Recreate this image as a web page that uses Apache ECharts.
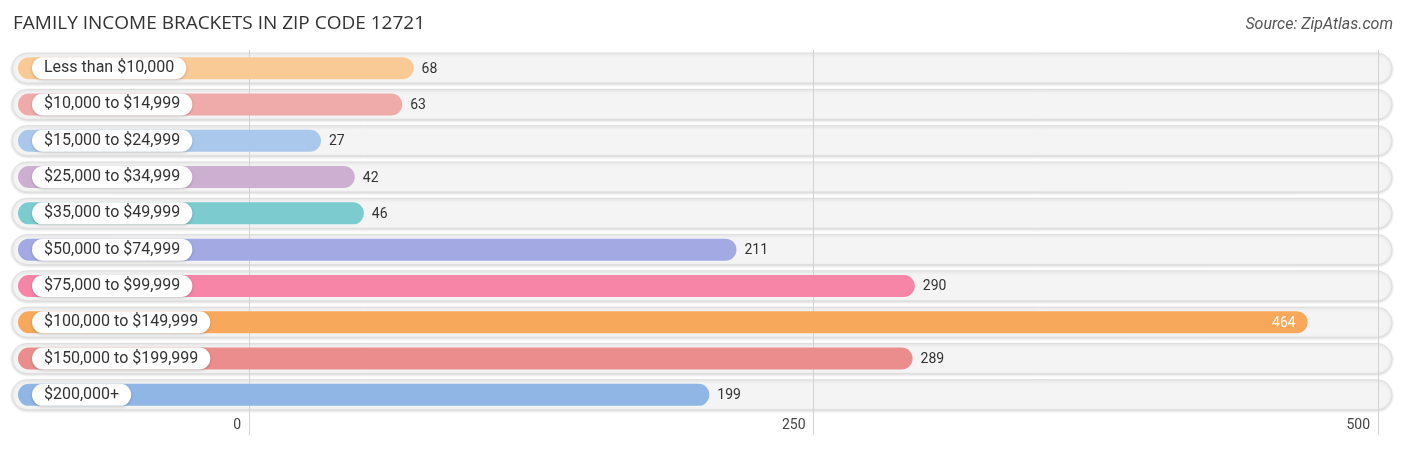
<!DOCTYPE html>
<html>
<head>
<meta charset="utf-8">
<script src="https://cdn.jsdelivr.net/npm/echarts@6/dist/echarts.min.js"></script>
<style>
  html, body { margin: 0; padding: 0; background: #fff; }
  #chart { width: 1406px; height: 450px; }
</style>
</head>
<body>
<div id="chart"></div>
<script>
// 数据
var categories = ['Less than $10,000', '$10,000 to $14,999', '$15,000 to $24,999', '$25,000 to $34,999',
    '$35,000 to $49,999', '$50,000 to $74,999', '$75,000 to $99,999', '$100,000 to $149,999',
    '$150,000 to $199,999', '$200,000+'];
var values = [68, 63, 27, 42, 46, 211, 290, 464, 289, 199];
var colors = ['#f9c996', '#efaaaa', '#a9c8ec', '#cdb0d1', '#7ccbcf', '#a3a9e3', '#f685a7', '#f8a85a', '#ea8d8c', '#8fb6e5'];
var xTicks = [0, 250, 500];

var myChart = echarts.init(document.getElementById('chart'));

var rows = values.map(function (v, i) { return [v, i]; });
var xMax = xTicks[xTicks.length - 1];

// 背景条
function renderBg(params, api) {
    var cs = params.coordSys;
    var cy = api.coord([0, api.value(1)])[1];
    var left = cs.x - 237;
    return {
        type: 'rect',
        shape: { x: left, y: cy - 15, width: cs.x + cs.width + 14 - left, height: 30, r: 15 },
        style: { fill: '#f4f4f4', stroke: '#dedede', lineWidth: 1,
                 shadowBlur: 3, shadowColor: 'rgba(0,0,0,0.15)', shadowOffsetY: 1 }
    };
}

// 彩色条 + 标签
function renderBar(params, api) {
    var cs = params.coordSys;
    var v = api.value(0);
    var idx = api.value(1);
    var end = api.coord([v, idx]);
    var cy = end[1];
    var left = cs.x - 231;
    var right = end[0] + 11;
    var inside = v / xMax > 0.8;
    return {
        type: 'group',
        children: [
            {
                type: 'rect',
                shape: { x: left, y: cy - 11, width: right - left, height: 22, r: 11 },
                style: { fill: colors[idx] }
            },
            {
                type: 'text',
                style: {
                    x: cs.x - 217, y: cy, text: categories[idx],
                    align: 'left', verticalAlign: 'middle',
                    fontSize: 16, fontFamily: 'Roboto', fill: '#333',
                    backgroundColor: '#fff', padding: [3, 12, 3, 12], borderRadius: 12,
                    shadowBlur: 3, shadowColor: 'rgba(0,0,0,0.2)', shadowOffsetY: 1
                }
            },
            {
                type: 'text',
                style: {
                    x: inside ? right - 12 : right + 8, y: cy + 1, text: String(v),
                    align: inside ? 'right' : 'left', verticalAlign: 'middle',
                    fontSize: 14, fontFamily: 'Roboto', fill: inside ? '#fff' : '#333'
                }
            }
        ]
    };
}

var option = {
    animation: false,
    title: [
        {
            text: 'FAMILY INCOME BRACKETS IN ZIP CODE 12721',
            left: 8, top: 9,
            textStyle: { fontSize: 19, fontWeight: 'normal', color: '#333', fontFamily: 'Open Sans' }
        },
        {
            text: 'Source: ZipAtlas.com',
            right: 8, top: 12,
            textStyle: { fontSize: 16, fontWeight: 'normal', fontStyle: 'italic', color: '#555', fontFamily: 'Roboto' }
        }
    ],
    grid: { left: 249, right: 28, top: 50, bottom: 37 },
    xAxis: {
        type: 'value', min: xTicks[0], max: xMax, interval: xTicks[1] - xTicks[0],
        axisLine: { show: false },
        axisTick: { show: true, length: 22, lineStyle: { color: '#d2d2d2' } },
        splitLine: { show: true, lineStyle: { color: '#d2d2d2' } },
        axisLabel: { align: 'right', margin: 5, padding: [0, 8, 0, 0], color: '#444', fontSize: 14, fontFamily: 'Roboto' }
    },
    yAxis: { type: 'category', data: categories, inverse: true, show: false },
    series: [
        { type: 'custom', z: -1, renderItem: renderBg, data: rows, encode: { x: 0, y: 1 }, silent: true },
        { type: 'custom', z: 3, renderItem: renderBar, data: rows, encode: { x: 0, y: 1 } }
    ]
};

myChart.setOption(option);
</script>
</body>
</html>
